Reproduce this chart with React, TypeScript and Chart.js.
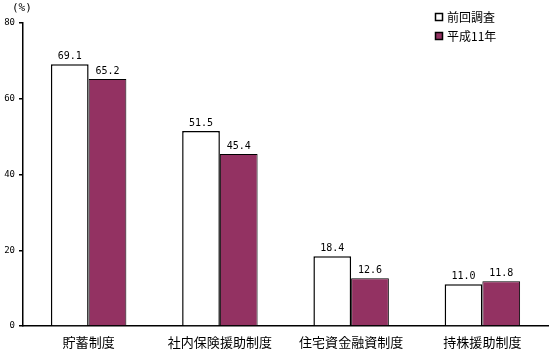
import React, { useEffect, useRef } from "react";
import { Chart, registerables } from "chart.js";

Chart.register(...registerables);

const categories = ["貯蓄制度", "社内保険援助制度", "住宅資金融資制度", "持株援助制度"];
const previousSurvey = [69.1, 51.5, 18.4, 11.0];
const heisei11 = [65.2, 45.4, 12.6, 11.8];
const seriesNames = ["前回調査", "平成11年"];
const seriesColors = ["#ffffff", "#933262"];
const yTicks = [0, 20, 40, 60, 80];

const CJK = '"Noto Sans CJK JP", "Noto Sans", sans-serif';
const MONO = '"DejaVu Sans Mono", "Liberation Mono", monospace';

const overlayPlugin = {
  id: "overlay",
  afterDatasetsDraw(chart: any) {
    const ctx = chart.ctx;
    ctx.save();
    ctx.fillStyle = "#000";
    ctx.font = `10px ${MONO}`;
    ctx.textAlign = "center";
    ctx.textBaseline = "alphabetic";
    chart.data.datasets.forEach((ds: any, di: number) => {
      const meta = chart.getDatasetMeta(di);
      meta.data.forEach((bar: any, i: number) => {
        const v = ds.data[i] as number;
        ctx.fillText(v.toFixed(1), bar.x, bar.y - 5);
      });
    });
    // (%) unit
    ctx.font = `11px ${MONO}`;
    ctx.textAlign = "left";
    ctx.textBaseline = "middle";
    ctx.fillText("(%)", 12, 8);
    // legend
    const lx = 435;
    const rows = [17, 36];
    seriesNames.forEach((name, i) => {
      const cy = rows[i];
      ctx.fillStyle = seriesColors[i];
      ctx.fillRect(lx, cy - 4, 8, 8);
      ctx.strokeStyle = "#000";
      ctx.lineWidth = 1.5;
      ctx.strokeRect(lx + 0.5, cy - 3.5, 7, 7);
      ctx.fillStyle = "#000";
      ctx.font = `12px ${CJK}`;
      ctx.textAlign = "left";
      ctx.textBaseline = "middle";
      ctx.fillText(name, lx + 12, cy);
    });
    ctx.restore();
  },
};

export default function App() {
  const ref = useRef<HTMLCanvasElement | null>(null);
  useEffect(() => {
    if (!ref.current) return;
    const chart = new Chart(ref.current, {
      type: "bar",
      data: {
        labels: categories,
        datasets: [
          {
            label: seriesNames[0],
            data: previousSurvey,
            backgroundColor: seriesColors[0],
            borderColor: "#000",
            borderWidth: 1.5,
            barPercentage: 1,
            categoryPercentage: 0.575,
          },
          {
            label: seriesNames[1],
            data: heisei11,
            backgroundColor: seriesColors[1],
            borderColor: "#000",
            borderWidth: 1,
            barPercentage: 1,
            categoryPercentage: 0.575,
          },
        ],
      },
      options: {
        responsive: false,
        animation: false,
        devicePixelRatio: 1,
        layout: { padding: { top: 23, right: 4, left: 0, bottom: 0 } },
        plugins: {
          legend: { display: false },
          tooltip: { enabled: false },
        },
        scales: {
          x: {
            grid: { display: true, drawOnChartArea: false, drawTicks: false, color: "#000" },
            border: { display: true, color: "#000", width: 1.5 },
            ticks: {
              color: "#000",
              padding: 8,
              font: { family: CJK, size: 13 },
              maxRotation: 0,
              autoSkip: false,
            },
            afterFit: (scale: any) => {
              scale.height = 26;
            },
          },
          y: {
            min: 0,
            max: 80,
            afterBuildTicks: (scale: any) => {
              scale.ticks = yTicks.map((v) => ({ value: v }));
            },
            grid: {
              display: true,
              drawOnChartArea: false,
              drawTicks: true,
              tickLength: 4,
              color: "#000",
              lineWidth: 1.5,
            },
            border: { display: true, color: "#000", width: 1.5 },
            ticks: {
              color: "#000",
              padding: 4,
              font: { family: MONO, size: 9 },
            },
            afterFit: (scale: any) => {
              scale.width = 23;
            },
          },
        },
      },
      plugins: [overlayPlugin],
    });
    return () => chart.destroy();
  }, []);
  return (
    <div style={{ position: "absolute", left: 0, top: 0, width: 552, height: 352, background: "#fff" }}>
      <canvas ref={ref} width={552} height={352} style={{ display: "block" }} />
    </div>
  );
}
